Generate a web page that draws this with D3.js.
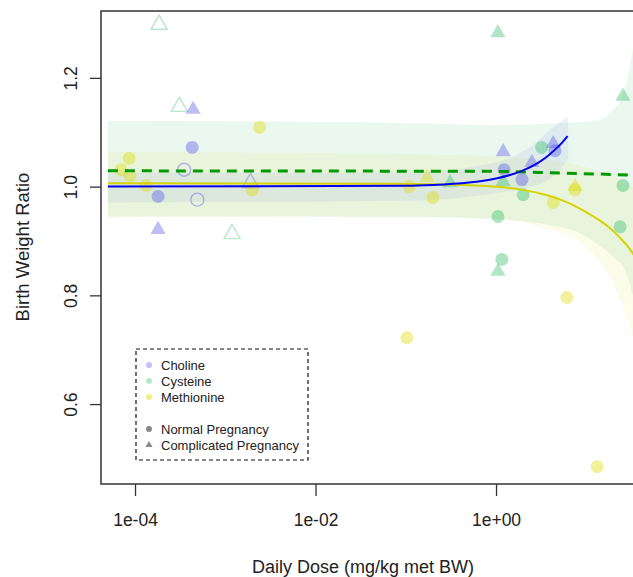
<!DOCTYPE html>
<html>
<head>
<meta charset="utf-8">
<script src="https://cdn.jsdelivr.net/npm/d3@7"></script>
<style>
  body { margin: 0; background: #fff; }
  svg { font-family: "Liberation Sans", Arial, sans-serif; }
</style>
</head>
<body>
<svg id="chart" width="633" height="577"></svg>
<script>
const width = 633, height = 577;

// points: [daily dose, birth weight ratio]
const cholineNormal = [[1.8e-4, 0.982], [4.3e-4, 1.072], [1.23, 1.031], [1.94, 1.013], [4.5, 1.066]];
const cholineComplicated = [[4.4e-4, 1.142], [1.8e-4, 0.921], [1.2, 1.064], [2.5, 1.044], [4.3, 1.079]];
const cholineNormalOpen = [[3.5e-4, 1.031], [4.9e-4, 0.976]];
const cholineComplicatedOpen = [[1.9e-3, 1.007]];

const cysteineNormal = [[1.05, 0.945], [1.16, 0.866], [3.2, 1.072], [2.0, 0.985], [25.5, 1.002], [23.7, 0.926]];
const cysteineComplicated = [[1.05, 1.283], [1.05, 0.844], [0.31, 1.007], [1.2, 1.009], [25.5, 1.166]];
const cysteineComplicatedOpen = [[1.85e-4, 1.298], [3.1e-4, 1.147], [1.19e-3, 0.913]];

const methionineNormal = [[8.6e-5, 1.052], [7.0e-5, 1.031], [8.8e-5, 1.020], [1.32e-4, 1.002], [2.4e-3, 1.109],
  [2.0e-3, 0.994], [0.109, 1.0], [0.20, 0.980], [0.103, 0.722], [4.3, 0.971], [7.5, 0.994], [6.1, 0.796], [13.2, 0.485]];
const methionineComplicated = [[0.172, 1.017], [7.5, 1.0]];

// fitted curves: [dose, ratio]
const cholineFit = [[5e-5, 1.0], [0.1, 1.0015], [0.2, 1.003], [0.5, 1.0075], [0.7, 1.0105], [1, 1.015], [1.4, 1.021],
  [2, 1.03], [2.8, 1.042], [3.6, 1.054], [4.5, 1.068], [5.4, 1.081], [6.2, 1.093]];
const cysteineFit = [[5e-5, 1.029], [1, 1.028], [5, 1.025], [30, 1.021], [50, 1.019]];
const methionineFit = [[5e-5, 1.006], [0.1, 1.005], [0.3, 1.004], [0.6, 1.002], [1, 1.0], [2, 0.994], [3.5, 0.985],
  [5, 0.977], [8, 0.962], [12, 0.945], [17, 0.928], [23, 0.908], [32, 0.88], [50, 0.82]];

// confidence bands: [dose, lower, upper]
const cholineBand = [[5e-5, 0.971, 1.025], [0.1, 0.974, 1.026], [1, 0.988, 1.045], [2.5, 1.0, 1.075], [4, 1.015, 1.105], [6.3, 1.05, 1.13]];
const cysteineBand = [[5e-5, 0.945, 1.121], [1e-3, 0.945, 1.12], [0.1, 0.944, 1.117], [1, 0.94, 1.113], [7, 0.92, 1.118],
  [11.8, 0.9, 1.12], [20, 0.87, 1.142], [28, 0.84, 1.192], [33, 0.8, 1.253], [50, 0.7, 1.4]];
const methionineBand = [[5e-5, 0.943, 1.064], [0.1, 0.945, 1.06], [1, 0.94, 1.055], [3.2, 0.925, 1.05], [8, 0.9, 1.04],
  [12.6, 0.87, 1.03], [20, 0.82, 1.02], [32, 0.73, 1.0], [50, 0.6, 0.98]];

const xTicks = [1e-4, 1e-2, 1];
const yTicks = [0.6, 0.8, 1.0, 1.2];

const colors = {choline: '#5555e6', cysteine: '#33bb66', methionine: '#dddd00'};

const fig = {left: 101, top: 11, bottom: 484, right: 650};

const x = d3.scaleLog()
  .domain([Math.pow(10, -4.377), Math.pow(10, 1.706)])
  .range([fig.left, fig.right]);
const y = d3.scaleLinear()
  .domain([0.453, 1.323])
  .range([fig.bottom, fig.top]);

const svg = d3.select('#chart');

svg.append('clipPath').attr('id', 'plotclip')
  .append('rect')
  .attr('x', fig.left).attr('y', fig.top)
  .attr('width', fig.right - fig.left).attr('height', fig.bottom - fig.top);

const plot = svg.append('g').attr('clip-path', 'url(#plotclip)');

// bands
const band = d3.area()
  .x(d => x(d[0]))
  .y0(d => y(d[1]))
  .y1(d => y(d[2]))
  .curve(d3.curveMonotoneX);

[[cysteineBand, colors.cysteine, 0.1], [methionineBand, colors.methionine, 0.08], [cholineBand, colors.choline, 0.08]]
  .forEach(([data, col, op]) => {
    plot.append('path')
      .datum(data)
      .attr('d', band)
      .attr('fill', col)
      .attr('fill-opacity', op);
  });

// points
function addCircles(data, col, open) {
  plot.selectAll(null)
    .data(data)
    .join('circle')
      .attr('cx', d => x(d[0]))
      .attr('cy', d => y(d[1]))
      .attr('r', 6.5)
      .attr('fill', open ? 'none' : col)
      .attr('fill-opacity', 0.4)
      .attr('stroke', open ? col : 'none')
      .attr('stroke-opacity', 0.4)
      .attr('stroke-width', 1.4);
}
function addTriangles(data, col, open) {
  plot.selectAll(null)
    .data(data)
    .join('path')
      .attr('d', d3.symbol(d3.symbolTriangle, open ? 115 : 100))
      .attr('transform', d => 'translate(' + x(d[0]) + ',' + y(d[1]) + ')')
      .attr('fill', open ? 'none' : col)
      .attr('fill-opacity', 0.38)
      .attr('stroke', open ? col : 'none')
      .attr('stroke-opacity', 0.35)
      .attr('stroke-width', 1.4);
}
addCircles(cholineNormal, colors.choline, false);
addTriangles(cholineComplicated, colors.choline, false);
addCircles(cholineNormalOpen, colors.choline, true);
addTriangles(cholineComplicatedOpen, colors.choline, true);
addCircles(cysteineNormal, colors.cysteine, false);
addTriangles(cysteineComplicated, colors.cysteine, false);
addTriangles(cysteineComplicatedOpen, colors.cysteine, true);
addCircles(methionineNormal, colors.methionine, false);
addTriangles(methionineComplicated, colors.methionine, false);

// fitted lines
const line = d3.line()
  .x(d => x(d[0]))
  .y(d => y(d[1]))
  .curve(d3.curveMonotoneX);

plot.append('path').datum(cysteineFit).attr('d', line)
  .attr('fill', 'none').attr('stroke', '#009900').attr('stroke-width', 3).attr('stroke-dasharray', '10,7');
plot.append('path').datum(methionineFit).attr('d', line)
  .attr('fill', 'none').attr('stroke', '#d4d400').attr('stroke-width', 2);
plot.append('path').datum(cholineFit).attr('d', line)
  .attr('fill', 'none').attr('stroke', '#0000ee').attr('stroke-width', 2);

// box
svg.append('rect')
  .attr('x', fig.left).attr('y', fig.top)
  .attr('width', fig.right - fig.left).attr('height', fig.bottom - fig.top)
  .attr('fill', 'none').attr('stroke', '#333').attr('stroke-width', 1.5);

// axes
const xAxis = svg.append('g')
  .attr('transform', 'translate(0,' + fig.bottom + ')')
  .call(d3.axisBottom(x).tickValues(xTicks).tickSize(12).tickPadding(18)
    .tickFormat(d => d3.format('.0e')(d).replace(/e([+-])(\d)$/, 'e$10$2')));
xAxis.select('.domain').remove();
xAxis.selectAll('line').attr('stroke', '#333').attr('stroke-width', 1.3);
xAxis.selectAll('text').attr('font-size', 17.5).attr('fill', '#222')
  .attr('font-family', '"Liberation Sans", Arial, sans-serif');

const yAxis = svg.append('g')
  .attr('transform', 'translate(' + fig.left + ',0)')
  .call(d3.axisLeft(y).tickValues(yTicks).tickSize(11).tickFormat(d3.format('.1f')));
yAxis.select('.domain').remove();
yAxis.selectAll('line').attr('stroke', '#333').attr('stroke-width', 1.3);
yAxis.selectAll('text')
  .attr('font-size', 17.5).attr('fill', '#222')
  .attr('font-family', '"Liberation Sans", Arial, sans-serif')
  .attr('x', null).attr('dy', null)
  .attr('text-anchor', 'middle')
  .attr('transform', 'translate(-24,0) rotate(-90)');

svg.append('text')
  .attr('x', 363).attr('y', 573)
  .attr('text-anchor', 'middle')
  .attr('font-size', 18).attr('fill', '#222')
  .text('Daily Dose (mg/kg met BW)');

svg.append('text')
  .attr('transform', 'translate(29,247) rotate(-90)')
  .attr('text-anchor', 'middle')
  .attr('font-size', 18.5).attr('fill', '#222')
  .text('Birth Weight Ratio');

// legend
const legend = svg.append('g');
legend.append('rect')
  .attr('x', 136).attr('y', 349).attr('width', 172).attr('height', 111)
  .attr('fill', '#fff').attr('stroke', '#111').attr('stroke-width', 1.2)
  .attr('stroke-dasharray', '4,3');

const legendItems = [
  {label: 'Choline', col: '#c2c2ff', shape: 'circle', y: 365},
  {label: 'Cysteine', col: '#b8e7c9', shape: 'circle', y: 381},
  {label: 'Methionine', col: '#f0f08c', shape: 'circle', y: 397},
  {label: 'Normal Pregnancy', col: '#888', shape: 'circle', y: 429},
  {label: 'Complicated Pregnancy', col: '#888', shape: 'triangle', y: 445}
];
legendItems.forEach(d => {
  if (d.shape === 'circle') {
    legend.append('circle').attr('cx', 149).attr('cy', d.y).attr('r', 3).attr('fill', d.col);
  } else {
    legend.append('path').attr('d', d3.symbol(d3.symbolTriangle, 22))
      .attr('transform', 'translate(149,' + d.y + ')').attr('fill', d.col);
  }
  legend.append('text')
    .attr('x', 161).attr('y', d.y + 5)
    .attr('font-size', 13).attr('fill', '#222')
    .text(d.label);
});
</script>
</body>
</html>
